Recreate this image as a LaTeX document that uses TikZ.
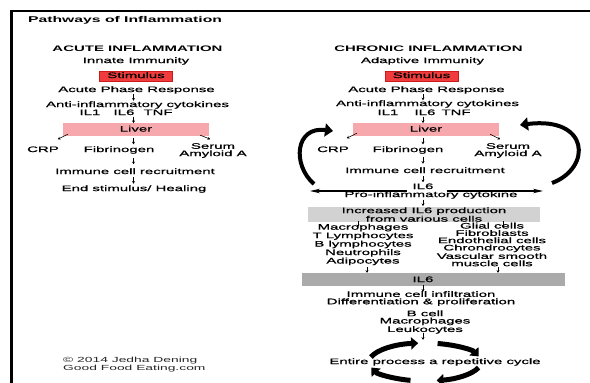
\documentclass[tikz,border=0pt]{standalone}
\usepackage{fontspec}
\setmainfont{Liberation Sans}[FakeStretch=1.87]
\newfontfamily\mfont{Liberation Sans}[FakeStretch=1.87,FakeBold=0.8]
\usetikzlibrary{arrows.meta,calc}
\definecolor{stimred}{RGB}{240,60,60}
\definecolor{stimedge}{RGB}{205,25,25}
\definecolor{liverpink}{RGB}{246,168,172}
\definecolor{lightgray}{RGB}{210,210,210}
\definecolor{bargray}{RGB}{170,170,170}
\tikzset{
  txt/.style={inner sep=0pt, font=\mfont\fontsize{8}{7.3}\selectfont, text height=5.8pt, text depth=1.7pt},
  mtxt/.style={inner sep=0pt, font=\mfont\fontsize{8}{7.3}\selectfont, align=center},
  head/.style={inner sep=0pt, font=\bfseries\fontsize{8}{9}\selectfont, text height=5.8pt, text depth=1.7pt},
  titlef/.style={inner sep=0pt, font=\bfseries\fontsize{8.4}{9}\selectfont},
  stimbox/.style={txt, draw=stimedge, line width=0.8pt, fill=stimred, minimum width=73pt, minimum height=10pt},
  liverbox/.style={txt, fill=liverpink, minimum width=146pt, minimum height=13pt},
  graybox/.style={mtxt, fill=lightgray, minimum width=232pt, minimum height=15pt},
  barbox/.style={inner sep=0pt, fill=bargray, minimum width=263pt, minimum height=13pt},
  sarr/.style={line width=0.6pt, -{Stealth[length=2.6pt,width=3pt]}},
  harr/.style={line width=1.1pt, -{Stealth[length=10pt,width=4.5pt]}},
  bigarr/.style={line width=4pt, -{Triangle[length=8pt,width=13pt]}},
  cycarr/.style={line width=5pt, -{Triangle[length=7pt,width=12pt]}},
}
% arrow centred in the gap between two nodes, at the x of a named coordinate
\newcommand\darr[3]{%
  \path (#1.south -| #3) coordinate (tmpa) (#2.north -| #3) coordinate (tmpb);
  \draw[sarr] ($(tmpa)!0.5!(tmpb)$) +(0,-3.2) -- +(0,3.2);}
% arrow leaving a node's bottom
\newcommand\darrs[3]{\draw[sarr] (#1.south -| #2) ++(0,-1) -- ++(0,#3);}
% arrow ending at a node's top
\newcommand\uarr[3]{\draw[sarr] (#1.north -| #2) ++(0,-#3) -- (#1.north -| #2);}
\begin{document}
\begin{tikzpicture}[x=1pt,y=-1pt]
\useasboundingbox (0,0) rectangle (590,383);
\fill[white] (0,0) rectangle (590,383);
\draw[line width=2pt] (10,11) -- (590,11);
\draw[line width=3.5pt] (11.5,10) -- (11.5,383);

\node[titlef, anchor=west] (title) at (28,20) {Pathways of Inflammation};

% x columns for arrows
\coordinate (xa) at (133.5,0);
\coordinate (xc) at (423,0);
\coordinate (xg1) at (358,0);
\coordinate (xg2) at (503,0);
\coordinate (xb1) at (367,0);
\coordinate (xb2) at (498,0);

% ---------- acute ----------
\node[head] (acute) at (137.5,49) {ACUTE INFLAMMATION};
\node[txt] (innate) at (136,61) {Innate Immunity};
\node[stimbox] (stimA) at (136,76) {Stimulus};
\node[txt] (aprA) at (136.5,90) {Acute Phase Response};
\node[txt] (antiA) at (137.5,105) {Anti-inflammatory cytokines};
\node[txt] (il1A) at (90,113) {IL1};
\node[txt] (il6A) at (124,113) {IL6};
\node[txt] (tnfA) at (158,113) {TNF};
\node[liverbox] (liverA) at (136,129.5) {Liver};
\node[txt] (crpA) at (43,150) {CRP};
\node[txt] (fibA) at (119,150) {Fibrinogen};
\node[mtxt] (serumA) at (213,150.5) {Serum\\Amyloid A};
\node[txt] (immA) at (135,172) {Immune cell recruitment};
\node[txt] (endA) at (134,189) {End stimulus/ Healing};

\darr{aprA}{antiA}{xa}
\darr{il6A}{liverA}{xa}
\darr{liverA}{fibA}{xa}
\darr{fibA}{immA}{xa}
\darr{immA}{endA}{xa}
\draw[sarr] ([shift={(5,-2)}]liverA.south west) -- ([shift={(-5,3)}]liverA.south west);
\draw[sarr] ([shift={(-9,-1)}]liverA.south east) -- ([shift={(1,3)}]liverA.south east);

\node[inner sep=0pt, anchor=west, align=left, font=\fontsize{7.4}{7.3}\selectfont, text=black!85] (copy) at (63,364.5) {\textcopyright{} 2014 Jedha Dening\\Good Food Eating.com};

% ---------- chronic ----------
\node[head] (chronic) at (428.5,49) {CHRONIC INFLAMMATION};
\node[txt] (adaptive) at (422.5,61) {Adaptive Immunity};
\node[stimbox] (stimC) at (421.5,76) {Stimulus};
\node[txt] (aprC) at (426.5,90) {Acute Phase Response};
\node[txt] (antiC) at (427.5,104) {Anti-inflammatory cytokines};
\node[txt] (il1C) at (388,113) {IL1};
\node[txt] (il6C1) at (425,113) {IL6};
\node[txt] (tnfC) at (456,113) {TNF};
\node[liverbox] (liverC) at (426,129.5) {Liver};
\node[txt] (crpC) at (333,150) {CRP};
\node[txt] (fibC) at (408,150) {Fibrinogen};
\node[mtxt] (serumC) at (508,150.5) {Serum\\Amyloid A};
\node[txt] (immC) at (425,171) {Immune cell recruitment};
\node[txt] (il6C) at (423,187) {IL6};
\node[txt] (proC) at (431,195) {Pro-inflammatory cytokine};
\node[graybox] (incC) at (424,214.5) {Increased IL6 production\\from various cells};
\node[mtxt] (listL) at (363,244.5) {Macrophages\\T Lymphocytes\\B lymphocytes\\Neutrophils\\Adipocytes};
\node[mtxt] (listR) at (492,244.5) {Glial cells\\Fibroblasts\\Endothelial cells\\Chrondrocytes\\Vascular smooth\\muscle cells};
\node[barbox] (bar) at (433.5,279.5) {};
\node[txt] (il6bar) at (423,280) {IL6};
\node[mtxt] (infC) at (421,298.5) {Immune cell infiltration\\Differentiation \& proliferation};
\node[mtxt] (cellsC) at (425,322) {B cell\\Macrophages\\Leukocytes};

\darr{aprC}{antiC}{xc}
\darr{il6C1}{liverC}{xc}
\darr{liverC}{fibC}{xc}
\darr{fibC}{immC}{xc}
\darr{immC}{il6C}{xc}
\darr{proC}{incC}{xc}
\darrs{incC}{xg1}{6}
\darrs{incC}{xg2}{6}
\uarr{bar}{xb1}{5.5}
\uarr{bar}{xb2}{5.5}
\darr{bar}{infC}{xc}
\darrs{cellsC}{xc}{7}
\draw[sarr] ([shift={(4,-3)}]liverC.south west) -- ([shift={(-6,2)}]liverC.south west);
\draw[sarr] ([shift={(-9,-2)}]liverC.south east) -- ([shift={(1,3)}]liverC.south east);

% horizontal double arrow around IL6
\coordinate (hl1) at (407,191);
\coordinate (hl2) at (310,191);
\coordinate (hr1) at (447,191);
\coordinate (hr2) at (543,191);
\draw[harr] (hl1) -- (hl2);
\draw[harr] (hr1) -- (hr2);

% big feedback arrows
\coordinate (cl0) at (314,184);
\coordinate (cl1) at (333,131);
\draw[bigarr] (cl0) .. controls (292,165) and (295,126) .. (cl1);
\coordinate (cr0) at (552,183);
\coordinate (cr1) at (520,125);
\draw[bigarr] (cr0) .. controls (592,168) and (590,116) .. (cr1);

% cycle
\coordinate (cc) at (425,362);
\draw[cycarr] ($(cc)+(195:56 and 19)$) arc[start angle=195, end angle=263, x radius=56, y radius=19];
\draw[cycarr] ($(cc)+(283:56 and 19)$) arc[start angle=283, end angle=343, x radius=56, y radius=19];
\draw[cycarr] ($(cc)+(17:56 and 19)$) arc[start angle=17, end angle=78, x radius=56, y radius=19];
\draw[cycarr] ($(cc)+(105:56 and 19)$) arc[start angle=105, end angle=163, x radius=56, y radius=19];
\node[txt] (cyc) at (435,362) {Entire process a repetitive cycle};
\end{tikzpicture}
\end{document}
